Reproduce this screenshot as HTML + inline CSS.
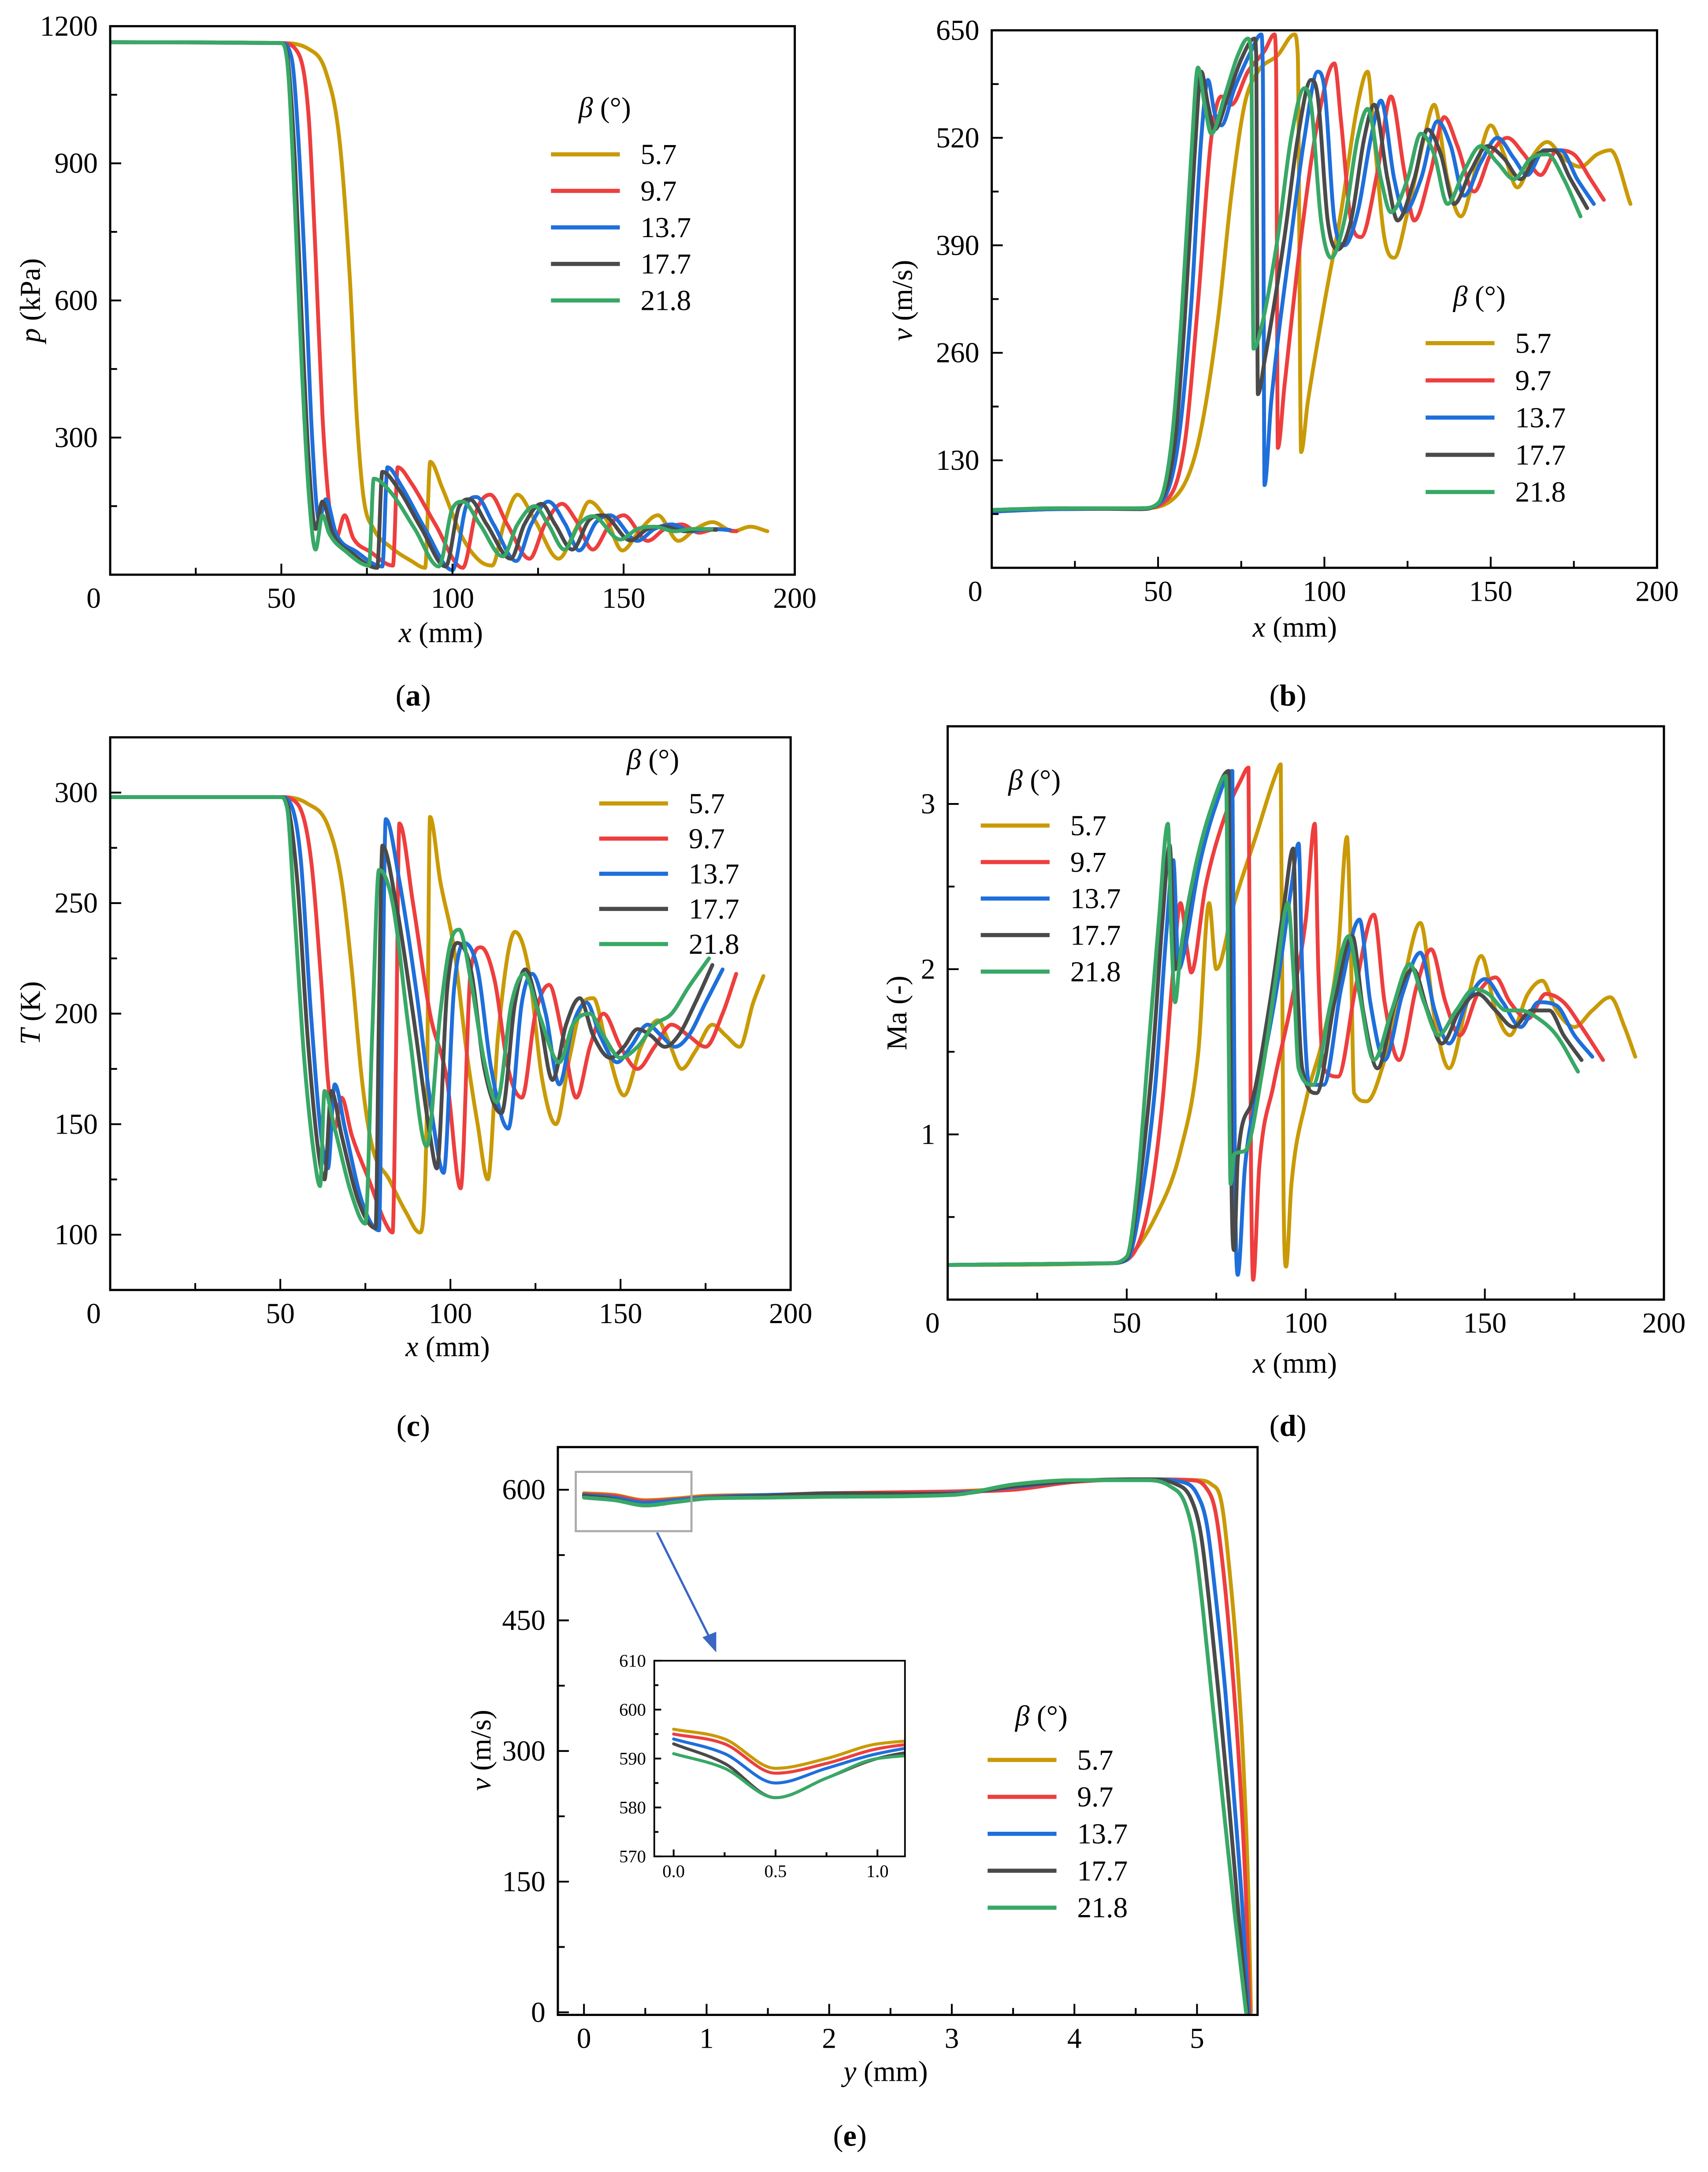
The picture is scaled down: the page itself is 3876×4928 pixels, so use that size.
<!DOCTYPE html>
<html><head><meta charset="utf-8"><title>Flow field profiles</title>
<style>
html,body{margin:0;padding:0;background:#fff;width:3876px;height:4928px;overflow:hidden;}
svg{display:block;font-family:"Liberation Serif",serif;}
</style></head>
<body>
<svg id="fig" width="3876" height="4928" viewBox="0 0 1240 1576" preserveAspectRatio="none" xmlns="http://www.w3.org/2000/svg">
<rect x="0" y="0" width="1240" height="1576" fill="#fff"/>
</svg>
<script>
// ===== data =====
const seriesNames = ['5.7','9.7','13.7','17.7','21.8'];
const seriesColors = ['#C99A06','#EE3E3E','#1F6FDB','#4A4A4A','#38A866'];

const xTicksX = [0,50,100,150,200];
const aYTicks = [300,600,900,1200];
const bYTicks = [130,260,390,520,650];
const cYTicks = [100,150,200,250,300];
const dYTicks = [1,2,3];
const eYTicks = [0,150,300,450,600];
const eXTicks = [0,1,2,3,4,5];
const insetYTicks = [570,580,590,600,610];
const insetXTicks = [0.0,0.5,1.0];

const aGold=[[0,1165],[50,1163],[58,1150],[63,1100],[67,950],[70,650],[72,350],[74,170],[77,100],[82,60],[88,30],[92,15],[93.5,247],[97,190],[103,80],[108,30],[111.6,20],[115,110],[119,175],[124,120],[131,35],[136,100],[140,160],[145,120],[149.6,53],[155,100],[160,130],[166,74],[171,100],[176,115],[182,95],[187,105],[192,95]];
const aRed=[[0,1165],[50,1163],[55,1140],[58,1000],[60,700],[62,350],[64,150],[66,80],[68.5,130],[71,80],[76,50],[82.6,20],[84,235],[88,200],[95,110],[103,15],[107,140],[111,175],[116,110],[122.5,35],[127,110],[132,155],[136,120],[141,55],[146,110],[150,130],[157,74],[162,100],[167,110],[172,92],[177,100],[183,95]];
const aBlue=[[0,1165],[50,1163],[53,1130],[55,950],[57,650],[59,300],[61,120],[63,165],[66,90],[72,50],[79.5,18],[81,235],[85,195],[92,100],[100,10],[104,150],[107,170],[112,110],[118.6,30],[123,110],[128,160],[133,110],[137,53],[142,115],[146,130],[154,74],[159,100],[164,110],[170,95],[175,100],[181,98]];
const aGray=[[0,1165],[50,1163],[52,1120],[54,900],[56,550],[58,250],[60,100],[62,160],[65,90],[71,45],[78,15],[79.5,225],[84,190],[91,100],[98,18],[102,150],[105,165],[110,110],[117,35],[121,110],[126,155],[130,110],[135,55],[140,120],[144,130],[152,75],[157,100],[162,105],[168,95],[173,100],[177,98]];
const aGreen=[[0,1165],[50,1163],[52,1100],[54,800],[56,450],[58,180],[60,55],[62,130],[64,90],[69,50],[75.6,20],[77,210],[82,180],[89,100],[96,18],[100,145],[103,160],[108,110],[114.7,40],[119,110],[124,150],[128,110],[132.7,55],[137,110],[141,128],[149,77],[154,100],[159,105],[165,95],[170,100],[175.7,100]];

const bGold=[[0,68],[20,71],[45,72],[55,85],[62,150],[68,300],[72,450],[76,560],[80,600],[86,620],[91,645],[92,620],[93,140],[95,200],[100,320],[105,430],[110,560],[113,600],[115,520],[118,400],[121,375],[125,430],[130,520],[133,560],[137,470],[141,425],[146,490],[150,535],[154,500],[158,460],[163,500],[167,515],[172,495],[177,485],[182,500],[186,505],[192,440]];
const bRed=[[0,68],[20,71],[45,72],[52,80],[58,150],[62,320],[66,520],[69,570],[72,560],[77,600],[82,625],[85,645],[85.5,600],[86,145],[88,220],[93,400],[98,540],[103,610],[105,540],[108,420],[111,400],[116,480],[120,570],[124,480],[127,420],[132,480],[136,545],[140,510],[145,455],[150,500],[155,520],[160,500],[165,475],[170,505],[175,500],[180,470],[184,445]];
const bBlue=[[0,68],[20,71],[45,72],[51,80],[56,150],[60,320],[63,520],[65,590],[67,550],[69,535],[73,580],[78,625],[81,645],[81.5,600],[82,100],[84,200],[90,400],[94,520],[98,600],[100,580],[103,420],[106,390],[110,430],[114,520],[117,565],[121,470],[124,430],[129,470],[134,540],[138,510],[142,450],[147,490],[152,520],[157,495],[161,475],[166,505],[171,505],[176,470],[181,440]];
const bGray=[[0,70],[20,72],[45,71],[50,78],[55,150],[58,300],[61,500],[63,600],[65,560],[67,530],[71,570],[75,615],[79,640],[79.5,620],[80,210],[82,250],[88,400],[92,520],[96,590],[98,570],[101,420],[104,385],[108,420],[112,520],[115,560],[119,470],[122,420],[127,470],[131,530],[135,500],[139,440],[144,480],[149,510],[154,495],[159,470],[164,500],[169,505],[174,470],[179,435]];
const bGreen=[[0,70],[20,72],[45,72],[50,78],[54,150],[57,300],[60,500],[62,605],[64,560],[66,525],[70,570],[74,620],[77,640],[78,620],[78.7,265],[81,290],[86,400],[90,520],[94,580],[96,560],[99,420],[102,375],[106,420],[110,520],[113,555],[117,470],[120,430],[125,470],[129,525],[133,500],[137,440],[142,480],[147,510],[152,490],[157,470],[162,495],[167,500],[172,470],[177,425]];

const cGold=[[0,298],[50,298],[58,295],[64,285],[68,260],[71,220],[74,170],[77,140],[82,125],[87,110],[91,101],[93,150],[94,289],[97,260],[101,230],[105,180],[108,150],[111,125],[114,190],[119,237],[123,220],[127,170],[131,150],[135,180],[139,205],[142,207],[146,185],[151,163],[156,185],[161,197],[164,188],[168,175],[172,183],[177,195],[181,190],[185,185],[189,205],[192,217]];
const cRed=[[0,298],[50,298],[55,295],[59,270],[62,215],[64,170],[66,148],[68,162],[71,145],[76,125],[81,105],[83,101],[84,180],[85,286],[89,250],[94,200],[99,170],[103,121],[106,220],[109,230],[113,215],[117,175],[121,162],[125,200],[129,213],[133,190],[137,162],[141,185],[145,200],[150,185],[155,175],[160,185],[165,195],[170,190],[175,185],[180,200],[184,218]];
const cBlue=[[0,298],[50,298],[53,295],[56,270],[59,200],[62,145],[64,130],[66,168],[69,148],[74,115],[79,102],[80,200],[81,288],[85,260],[90,210],[95,150],[98,128],[101,210],[104,232],[108,220],[112,175],[117,148],[121,205],[124,218],[128,200],[132,168],[136,195],[140,205],[144,190],[149,178],[153,185],[158,195],[162,190],[166,185],[170,190],[175,205],[180,220]];
const cGray=[[0,298],[50,298],[52,295],[55,260],[58,190],[61,140],[63,125],[65,165],[68,145],[73,115],[78,103],[79,200],[80,276],[84,250],[89,200],[94,145],[96,130],[99,210],[102,232],[106,220],[110,175],[115,155],[119,205],[122,220],[126,200],[130,170],[134,195],[138,207],[142,190],[147,180],[151,185],[155,193],[159,190],[163,185],[167,190],[172,205],[177,222]];
const cGreen=[[0,298],[50,298],[52,293],[54,250],[57,180],[60,135],[61.7,122],[63,165],[66,148],[71,118],[75,105],[77,190],[79,265],[83,250],[88,190],[93,140],[97,200],[100,232],[102.6,238],[106,215],[110,178],[113.6,160],[118,205],[121.7,218],[126,200],[132,178],[136,195],[141,200],[145,190],[150,180],[155,185],[160,195],[165,200],[170,212],[176,225]];

const dGold=[[0,0.21],[45,0.22],[50,0.25],[58,0.5],[65,0.9],[70,1.5],[73,2.4],[75,2.0],[80,2.4],[86,2.8],[92,3.2],[93,3.24],[93.8,0.6],[94.5,0.2],[96,0.7],[100,1.2],[105,1.6],[109,2.1],[111.5,2.8],[112.5,2.2],[113.5,1.25],[117,1.2],[122,1.45],[127,1.9],[132,2.28],[136,1.7],[140,1.4],[145,1.8],[149,2.08],[153,1.75],[157,1.6],[162,1.85],[166,1.93],[170,1.75],[175,1.65],[180,1.75],[185,1.83],[189,1.65],[192,1.47]];
const dRed=[[0,0.21],[45,0.22],[50,0.24],[56,0.55],[60,1.2],[63,2.0],[65,2.4],[67,2.1],[68,1.98],[72,2.5],[77,2.9],[82,3.15],[84,3.22],[84.7,0.8],[85.3,0.12],[87,0.8],[91,1.3],[96,1.8],[100,2.3],[102.5,2.88],[103.5,2.0],[105,1.4],[109,1.35],[114,1.9],[119,2.33],[122,1.8],[126,1.45],[131,1.9],[135,2.12],[139,1.8],[143,1.6],[148,1.85],[153,1.95],[157,1.8],[162,1.7],[167,1.85],[172,1.8],[177,1.65],[183,1.45]];
const dBlue=[[0,0.21],[45,0.22],[50,0.24],[54,0.6],[58,1.3],[61,2.2],[63,2.66],[64.5,2.0],[66,2.1],[70,2.6],[75,3.0],[79.5,3.2],[80.2,0.8],[81,0.15],[83,0.8],[87,1.3],[92,1.9],[96,2.5],[98,2.76],[99,2.0],[101,1.3],[105,1.3],[110,1.9],[115,2.3],[118,1.8],[122,1.45],[127,1.85],[132,2.1],[136,1.75],[140,1.55],[145,1.8],[150,1.94],[155,1.8],[160,1.65],[165,1.8],[170,1.78],[175,1.6],[180,1.47]];
const dGray=[[0,0.21],[45,0.22],[50,0.25],[53,0.6],[57,1.4],[60,2.3],[62,2.75],[63.5,2.0],[65,2.1],[69,2.6],[74,3.0],[78.5,3.2],[79.2,0.8],[80,0.3],[81,0.85],[85,1.2],[90,1.8],[94,2.4],[96.5,2.73],[97.5,2.0],[99,1.4],[103,1.25],[108,1.8],[113,2.2],[116,1.75],[120,1.4],[125,1.8],[130,2.0],[134,1.75],[138,1.55],[143,1.75],[148,1.85],[153,1.75],[158,1.65],[163,1.75],[168,1.75],[172,1.6],[177,1.45]];
const dGreen=[[0,0.21],[45,0.22],[50,0.26],[53,0.7],[56,1.5],[59,2.3],[61.5,2.88],[62.5,2.2],[63.5,1.8],[65,2.1],[69,2.6],[74,3.0],[77.7,3.17],[78.5,1.5],[79,0.7],[80,0.88],[83,0.9],[88,1.4],[92,2.0],[95,2.4],[96.5,2.0],[98,1.4],[102,1.3],[107,1.8],[112,2.2],[115,1.85],[119,1.45],[124,1.75],[129,2.03],[133,1.8],[137,1.6],[142,1.75],[147,1.88],[151,1.85],[156,1.75],[160,1.75],[165,1.7],[170,1.6],[176,1.38]];

const eGold=[[0,596],[0.25,594],[0.5,588],[0.75,590],[1,593],[1.5,594],[2,595],[3,598],[3.5,602],[4,610],[4.6,612],[5.0,611],[5.12,606],[5.2,585],[5.27,500],[5.33,400],[5.38,280],[5.42,130],[5.44,0]];
const eRed=[[0,595],[0.25,593],[0.5,587],[0.75,589],[1,592],[1.5,594],[2,596],[3,598],[3.5,600],[4,609],[4.6,612],[4.95,611],[5.07,603],[5.15,575],[5.22,500],[5.29,390],[5.35,270],[5.4,130],[5.43,0]];
const eBlue=[[0,594],[0.25,591],[0.5,585],[0.75,588],[1,591],[1.5,594],[2,595],[3,596],[3.5,603],[4,610],[4.6,612],[4.88,609],[5.0,595],[5.08,560],[5.15,480],[5.23,370],[5.3,250],[5.37,120],[5.42,0]];
const eGray=[[0,593],[0.25,589],[0.5,582],[0.75,586],[1,590],[1.5,593],[2,596],[3,595],[3.5,604],[4,610],[4.6,612],[4.82,607],[4.95,590],[5.03,550],[5.1,470],[5.18,360],[5.26,240],[5.34,110],[5.41,0]];
const eGreen=[[0,591],[0.25,588],[0.5,582],[0.75,586],[1,590],[1.5,591],[2,592],[3,594],[3.5,606],[4,611],[4.6,611],[4.78,604],[4.9,585],[4.98,540],[5.05,460],[5.13,350],[5.22,230],[5.31,110],[5.4,0]];

// ===== drawing =====
const NS='http://www.w3.org/2000/svg';
const svg=document.getElementById('fig');
function mk(tag,attrs,parent){const el=document.createElementNS(NS,tag);for(const k in attrs)el.setAttribute(k,attrs[k]);(parent||svg).appendChild(el);return el;}
function txt(s,x,y,size,anchor,parent,extra){const t=mk('text',Object.assign({x:x,y:y,'font-size':size,'text-anchor':anchor||'middle',fill:'#000'},extra||{}),parent);t.textContent=s;return t;}

function monoPath(p){
  const n=p.length;if(n<2)return '';
  const d=[],m=new Array(n);
  for(let i=0;i<n-1;i++){const h=p[i+1][0]-p[i][0];d.push(h===0?0:(p[i+1][1]-p[i][1])/h);}
  m[0]=d[0];m[n-1]=d[n-2];
  for(let i=1;i<n-1;i++)m[i]=(d[i-1]*d[i]<=0)?0:(d[i-1]+d[i])/2;
  for(let i=0;i<n-1;i++){
    if(d[i]===0){m[i]=0;m[i+1]=0;continue;}
    const a=m[i]/d[i],b=m[i+1]/d[i],s=a*a+b*b;
    if(s>9){const t=3/Math.sqrt(s);m[i]=t*a*d[i];m[i+1]=t*b*d[i];}
  }
  let s='M'+p[0][0].toFixed(2)+' '+p[0][1].toFixed(2);
  for(let i=0;i<n-1;i++){
    const h=(p[i+1][0]-p[i][0])/3;
    s+=' C'+(p[i][0]+h).toFixed(2)+' '+(p[i][1]+m[i]*h).toFixed(2)+' '+(p[i+1][0]-h).toFixed(2)+' '+(p[i+1][1]-m[i+1]*h).toFixed(2)+' '+p[i+1][0].toFixed(2)+' '+p[i+1][1].toFixed(2);
  }
  return s;
}

let clipId=0;
function panel(c){
  const g=mk('g',{});
  
  
  const sx=v=>c.L+(v-c.xmin)/(c.xmax-c.xmin)*(c.R-c.L);
  const sy=v=>c.B-(v-c.ymin)/(c.ymax-c.ymin)*(c.B-c.T);
  const cid='clip'+(clipId++);
  const defs=mk('defs',{},g);
  const cp=mk('clipPath',{id:cid},defs);
  mk('rect',{x:c.L,y:c.T,width:c.R-c.L,height:c.B-c.T},cp);
  const sg=mk('g',{'clip-path':'url(#'+cid+')'},g);
  c.series.forEach((arr,i)=>{
    const pts=arr.map(q=>[sx(q[0]),sy(q[1])]);
    const path=mk('path',{d:monoPath(pts),fill:'none',stroke:seriesColors[i],'stroke-width':c.sw||2.8,'stroke-linejoin':'round','stroke-linecap':'round'},sg);
    
    
  });
  const fr=mk('rect',{x:c.L,y:c.T,width:c.R-c.L,height:c.B-c.T,fill:'none',stroke:'#000','stroke-width':c.fw||1.6},g);
  
  
  const ml=c.ml||8, nl=c.nl||5, fs=c.fs||21;
  const xa=mk('g',{},g);
  
  
  c.xticks.forEach((v,i)=>{
    const x=sx(v);
    mk('line',{x1:x,y1:c.B,x2:x,y2:c.B-ml,stroke:'#000','stroke-width':1.3},xa);
    const lab=(c.xfmt?c.xfmt(v):String(v));
    txt(lab,x+(i===0&&c.zeroShift?c.zeroShift:0),c.B+(c.xlo||24),fs,'middle',xa);
    if(i<c.xticks.length-1){const xm=sx((v+c.xticks[i+1])/2);if(xm<c.R-1)mk('line',{x1:xm,y1:c.B,x2:xm,y2:c.B-nl,stroke:'#000','stroke-width':1.3},xa);}
  });
  if(c.xticks.length>1){const st=c.xticks[1]-c.xticks[0];const xm=sx(c.xticks[c.xticks.length-1]+st/2);if(xm<c.R-1)mk('line',{x1:xm,y1:c.B,x2:xm,y2:c.B-nl,stroke:'#000','stroke-width':1.3},xa);}
  const ya=mk('g',{},g);
  
  
  const yst=c.yticks[1]-c.yticks[0];
  c.yticks.forEach(v=>{
    const y=sy(v);
    mk('line',{x1:c.L,y1:y,x2:c.L+ml,y2:y,stroke:'#000','stroke-width':1.3},ya);
    txt(c.yfmt?c.yfmt(v):String(v),c.L-(c.ylo||9),y+fs*0.33,fs,'end',ya);
  });
  for(let v=c.yticks[0]-yst/2;v<=c.ymax;v+=yst){
    if(v<c.ymin||v>c.ymax)continue;
    const y=sy(v);mk('line',{x1:c.L,y1:y,x2:c.L+nl,y2:y,stroke:'#000','stroke-width':1.3},ya);
  }
  if(c.xtitle){
    const t=mk('text',{x:c.xtitle[0],y:c.xtitle[1],'font-size':fs,'text-anchor':'middle'},g);
    t.innerHTML='<tspan font-style="italic">'+c.xtitle[2]+'</tspan> (mm)';
    
    
  }
  if(c.ytitle){
    const t=mk('text',{x:0,y:0,'font-size':fs,'text-anchor':'middle',transform:'translate('+c.ytitle[0]+','+c.ytitle[1]+') rotate(-90)'},g);
    t.innerHTML=c.ytitle[2];
    
    
  }
  if(c.legend){
    const lg=mk('g',{},g);
    
    
    const [lx,ly,ly0,dy]=c.legend;
    const h=mk('text',{x:lx+20,y:ly+7,'font-size':21,'text-anchor':'start'},lg);
    h.innerHTML='<tspan font-style="italic">β</tspan>  (°)';
    seriesNames.forEach((nm,i)=>{
      const y=ly0+i*dy;
      const e=mk('g',{},lg);
      
      
      mk('line',{x1:lx,y1:y,x2:lx+50,y2:y,stroke:seriesColors[i],'stroke-width':3},e);
      txt(nm,lx+65,y+7,21,'start',e);
    });
  }
  if(c.label){
    const t=txt('',c.label[0],c.label[1],22,'middle',g);
    t.innerHTML='(<tspan font-weight="bold">'+c.label[2]+'</tspan>)';
    
    
  }
  return {g,sx,sy};
}

panel({name:'panel-a-pressure',L:80,R:577,T:19,B:417,xmin:0,xmax:200,ymin:0,ymax:1200,xticks:xTicksX,yticks:aYTicks,
  series:[aGold,aRed,aBlue,aGray,aGreen],zeroShift:-12,xtitle:[320,466,'x'],ytitle:[29,218,'<tspan font-style="italic">p</tspan> (kPa)'],
  legend:[400,78,112,26.5],label:[300,512,'a']});
panel({name:'panel-b-velocity',L:720,R:1203,T:22,B:412,xmin:0,xmax:200,ymin:0,ymax:650,xticks:xTicksX,yticks:bYTicks,
  series:[bGold,bRed,bBlue,bGray,bGreen],zeroShift:-12,xtitle:[940,462,'x'],ytitle:[662,218,'<tspan font-style="italic">v</tspan> (m/s)'],
  legend:[1035,215,249,27],label:[935,512,'b']});
panel({name:'panel-c-temperature',L:80,R:574,T:535,B:936,xmin:0,xmax:200,ymin:75,ymax:325,xticks:xTicksX,yticks:cYTicks,
  series:[cGold,cRed,cBlue,cGray,cGreen],zeroShift:-12,xtitle:[325,984,'x'],ytitle:[29,735,'<tspan font-style="italic">T</tspan> (K)'],
  legend:[435,551,583,25.5],label:[300,1042,'c']});
panel({name:'panel-d-mach',L:688,R:1208,T:527,B:943,xmin:0,xmax:200,ymin:0,ymax:3.47,xticks:xTicksX,yticks:dYTicks,
  series:[dGold,dRed,dBlue,dGray,dGreen],zeroShift:-11,xtitle:[940,996,'x'],ytitle:[658,735,'Ma (-)'],
  legend:[712,566,599,26.5],label:[935,1042,'d']});
panel({name:'panel-e-velocity-profile',L:405,R:913,T:1050,B:1462,xmin:-0.213,xmax:5.494,ymin:-3,ymax:649,xticks:eXTicks,yticks:eYTicks,
  series:[eGold,eRed,eBlue,eGray,eGreen],xtitle:[643,1510,'y'],ytitle:[356,1270,'<tspan font-style="italic">v</tspan> (m/s)'],
  legend:[717,1245,1277,26.8],label:[617,1557,'e']});
const zb=mk('rect',{x:418,y:1068,width:84,height:43,fill:'none',stroke:'#aaa','stroke-width':1.5});


const arr=mk('g',{});


mk('line',{x1:477,y1:1112,x2:516,y2:1190,stroke:'#3A66C4','stroke-width':1.6},arr);
mk('polygon',{points:'520,1199 510,1188 520,1184',fill:'#3A66C4'},arr);
const ins=mk('rect',{x:475,y:1205,width:182,height:142,fill:'#fff'});


panel({name:'panel-e-inset',L:475,R:657,T:1205,B:1347,xmin:-0.095,xmax:1.135,ymin:570,ymax:610,xticks:insetXTicks,yticks:insetYTicks,
  series:[eGold,eRed,eBlue,eGray,eGreen],fs:13,ml:5,nl:3,xlo:15,ylo:6,fw:1.2,sw:2.2,xfmt:v=>v.toFixed(1)});
</script>
</body></html>
